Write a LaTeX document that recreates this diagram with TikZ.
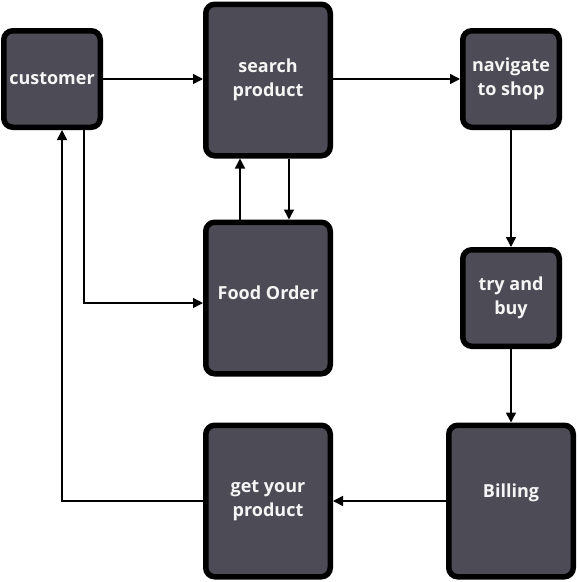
\documentclass[tikz,border=0pt]{standalone}
\usepackage{fontspec}
\setmainfont{Open Sans}
\usepackage{tikz}
\usetikzlibrary{positioning,arrows.meta,calc}
\definecolor{colorbox}   {RGB}{ 77, 75, 85}
\definecolor{colortext}  {RGB}{245,245,245}
\definecolor{colorline}  {RGB}{  0,  0,  0}

\begin{document}
\begin{tikzpicture}[
    x=1pt, y=-1pt,
    smallbox/.style={draw=colorline,fill=colorbox,line width=5.5pt,rounded corners=9pt,
        minimum width=96.5pt,minimum height=96.5pt,inner sep=0pt,
        text=colortext,align=center,font={\fontsize{18}{24}\selectfont\bfseries}},
    bigbox/.style={smallbox,minimum width=124.5pt,minimum height=151.5pt},
    flow/.style={draw=colorline,line width=1.5pt,-{Triangle[length=10pt,width=10pt]}}
]
    \useasboundingbox (0,0) rectangle (578,582);

    % Top row
    \node[smallbox] (customer) at (52,79) {customer};
    \node[bigbox]   (search)   at (268,80) {search\\product};
    \node[smallbox] (navigate) at (511,79) {navigate\\to shop};

    % Middle row
    \node[bigbox]   (food)     at (268,298) {\raisebox{11pt}{Food Order}};
    \node[smallbox] (trybuy)   at (511,298) {\raisebox{9pt}{\begin{tabular}{@{}c@{}}try and\\buy\end{tabular}}};

    % Bottom row
    \node[bigbox]   (getprod)  at (268,501) {get your\\product};
    \node[bigbox]   (billing)  at (511,501) {\raisebox{21pt}{Billing}};

    % Arrows along the top
    \draw[flow] (customer.east) -- (customer.east -| search.west);
    \draw[flow] (navigate.west -| search.east) -- (navigate.west);

    % Arrows down the right side
    \draw[flow] (navigate.south) -- (trybuy.north);
    \draw[flow] (trybuy.south) -- (billing.north);

    % Arrows back to the customer
    \draw[flow] (billing.west) -- (getprod.east);
    \draw[flow] (getprod.west) -| ([xshift=10pt]customer.south);

    % Customer to food order
    \draw[flow] ([xshift=32pt]customer.south) |- ([yshift=-5pt]food.west);

    % Between search and food order
    \draw[flow] ([xshift=-28pt]food.north) -- ([xshift=-28pt]search.south);
    \draw[flow] ([xshift=21pt]search.south) -- ([xshift=21pt]food.north);

\end{tikzpicture}
\end{document}
